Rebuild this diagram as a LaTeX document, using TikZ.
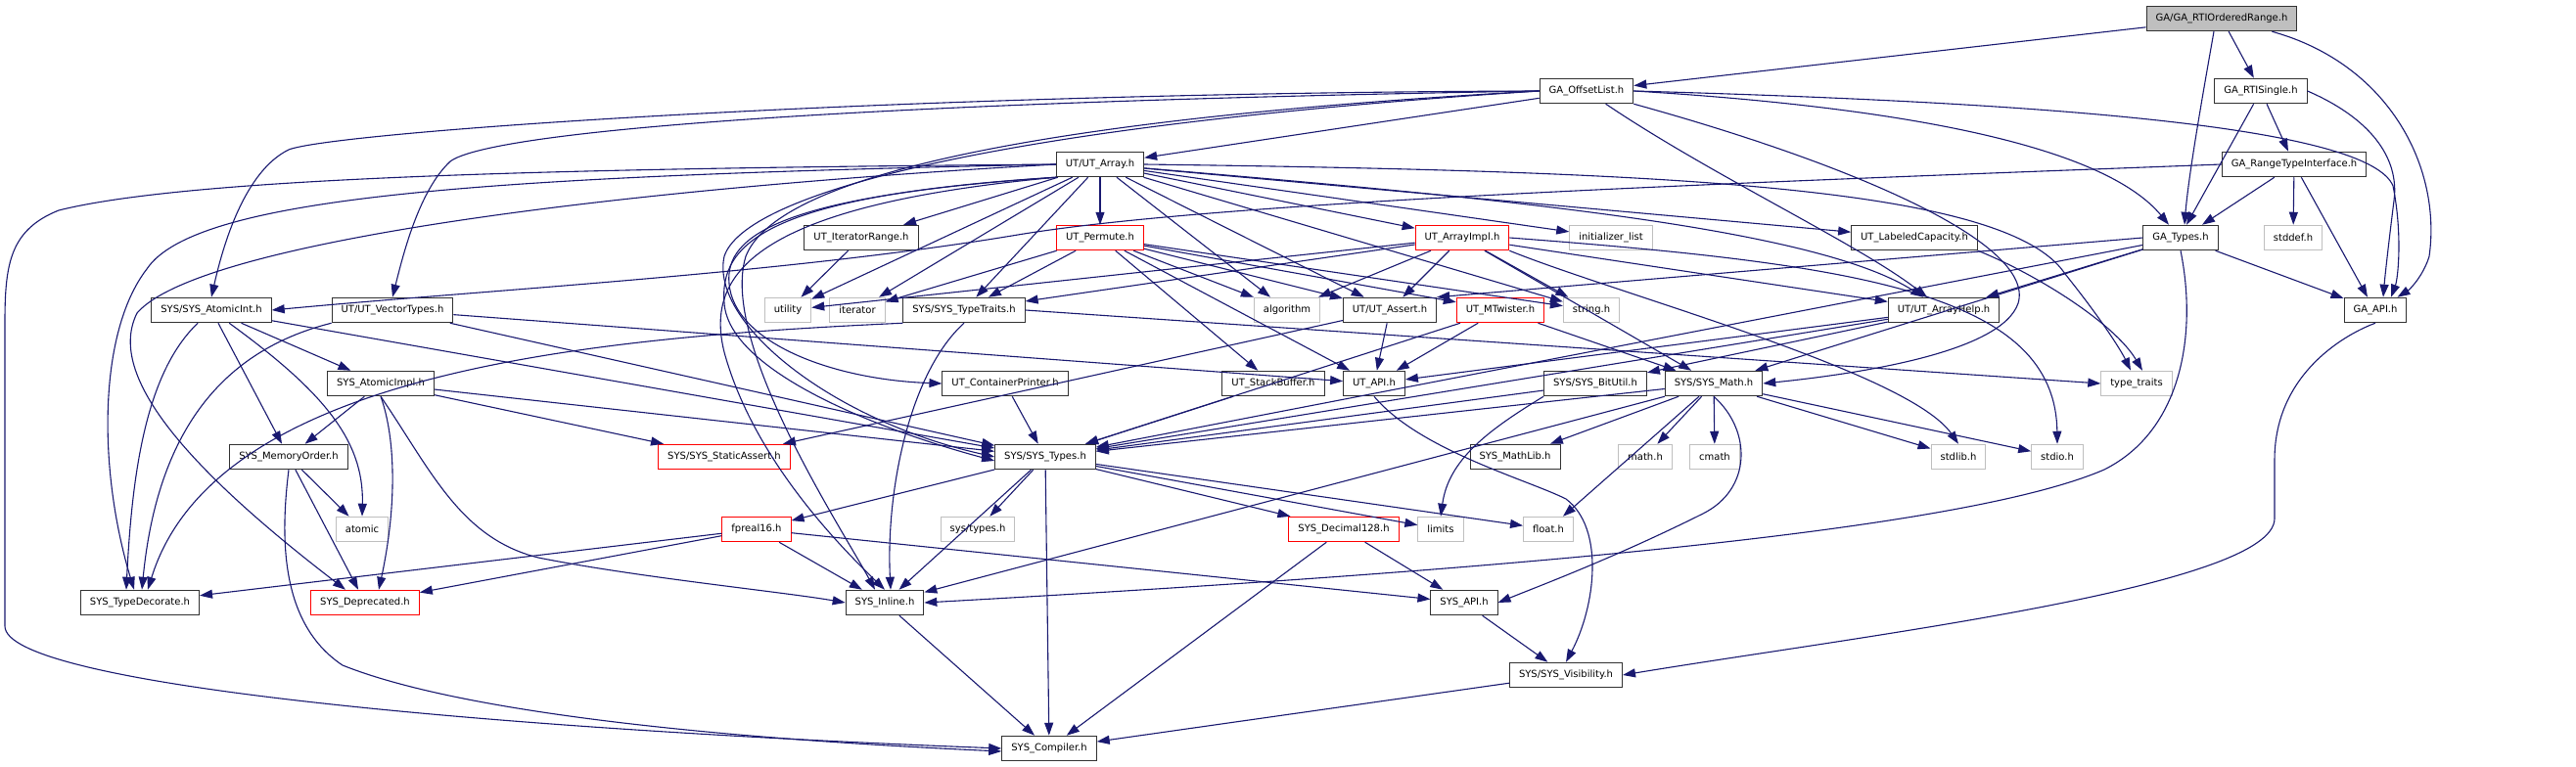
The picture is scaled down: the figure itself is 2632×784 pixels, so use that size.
\documentclass[tikz,border=0pt]{standalone}
\usepackage{fontspec}
\newfontfamily\dv{DejaVu Sans}
\usetikzlibrary{arrows.meta}
\definecolor{edgec}{RGB}{25,25,112}
\definecolor{gbord}{RGB}{191,191,191}
\definecolor{rbord}{RGB}{255,0,0}
\definecolor{nbord}{RGB}{50,50,50}
\begin{document}
\begin{tikzpicture}[x=1pt,y=-1pt,
  nd/.style={draw=nbord, fill=white, line width=1pt, minimum height=25.5pt, inner xsep=9.5pt, inner ysep=0pt, font=\dv\fontsize{10}{12}\selectfont},
  rd/.style={nd, draw=rbord},
  gy/.style={nd, draw=gbord},
  rt/.style={nd, fill=gbord},
  edg/.style={draw=edgec, line width=1.1pt, -{Triangle[length=13pt,width=9pt]}},
]
\useasboundingbox (0,0) rectangle (2632,784);
\fill[white] (0,0) rectangle (2632,784);
% ---- nodes ----
\node[rt] (rtior) at (2270,19) {GA/GA\_RTIOrderedRange.h};
\node[nd] (offs) at (1621,93) {GA\_OffsetList.h};
\node[nd] (rtis) at (2310,93) {GA\_RTISingle.h};
\node[nd] (arr) at (1124,168) {UT/UT\_Array.h};
\node[nd] (rti) at (2344,168) {GA\_RangeTypeInterface.h};
\node[nd] (iter) at (880,243) {UT\_IteratorRange.h};
\node[rd] (perm) at (1124,243) {UT\_Permute.h};
\node[rd] (aimpl) at (1494,243) {UT\_ArrayImpl.h};
\node[gy] (ilist) at (1646,243) {initializer\_list};
\node[nd] (lcap) at (1956,243) {UT\_LabeledCapacity.h};
\node[nd] (gat) at (2228,243) {GA\_Types.h};
\node[gy] (stddef) at (2343,243) {stddef.h};
\node[nd] (aint) at (216,317) {SYS/SYS\_AtomicInt.h};
\node[nd] (vect) at (401,317) {UT/UT\_VectorTypes.h};
\node[gy] (util) at (805,317) {utility};
\node[gy] (iterh) at (876,317) {iterator};
\node[nd] (ttr) at (985,317) {SYS/SYS\_TypeTraits.h};
\node[gy] (algo) at (1315,317) {algorithm};
\node[nd] (asrt) at (1420,317) {UT/UT\_Assert.h};
\node[rd] (mtw) at (1533,317) {UT\_MTwister.h};
\node[gy] (strh) at (1626,317) {string.h};
\node[nd] (ahelp) at (1986,317) {UT/UT\_ArrayHelp.h};
\node[nd] (gaapi) at (2427,317) {GA\_API.h};
\node[nd] (aimp2) at (389,392) {SYS\_AtomicImpl.h};
\node[nd] (cpr) at (1027,392) {UT\_ContainerPrinter.h};
\node[nd] (sbuf) at (1301,392) {UT\_StackBuffer.h};
\node[nd] (utapi) at (1404,392) {UT\_API.h};
\node[nd] (bitu) at (1630,392) {SYS/SYS\_BitUtil.h};
\node[nd] (smath) at (1751,392) {SYS/SYS\_Math.h};
\node[gy] (ttraits) at (2183,392) {type\_traits};
\node[nd] (morder) at (295,467) {SYS\_MemoryOrder.h};
\node[rd] (sassert) at (740,467) {SYS/SYS\_StaticAssert.h};
\node[nd] (stypes) at (1068,467) {SYS/SYS\_Types.h};
\node[nd] (mlib) at (1548,467) {SYS\_MathLib.h};
\node[gy] (mathh) at (1681,467) {math.h};
\node[gy] (cmath) at (1752,467) {cmath};
\node[gy] (stdlib) at (2001,467) {stdlib.h};
\node[gy] (stdio) at (2102,467) {stdio.h};
\node[gy] (atomic) at (370,541) {atomic};
\node[rd] (fp16) at (773,541) {fpreal16.h};
\node[gy] (systy) at (999,541) {sys/types.h};
\node[rd] (dec) at (1373,541) {SYS\_Decimal128.h};
\node[gy] (limits) at (1472,541) {limits};
\node[gy] (floath) at (1582,541) {float.h};
\node[nd] (tdec) at (143,616) {SYS\_TypeDecorate.h};
\node[rd] (depr) at (373,616) {SYS\_Deprecated.h};
\node[nd] (inl) at (904,616) {SYS\_Inline.h};
\node[nd] (sapi) at (1496,616) {SYS\_API.h};
\node[nd] (vis) at (1600,690) {SYS/SYS\_Visibility.h};
\node[nd] (comp) at (1072,765) {SYS\_Compiler.h};

% ---- GA level ----
\draw[edg] (rtior) -- (offs);
\draw[edg] (rtior) -- (rtis);
\draw[edg] ([xshift=-8pt]rtior.south) .. controls (2250,100) and (2236,180) .. ([xshift=4pt]gat.north);
\draw[edg] ([xshift=-26pt]rtior.south east) .. controls (2440,65) and (2495,170) .. (2482,262) .. controls (2476,282) and (2462,296) .. ([xshift=-10pt]gaapi.north east);
\draw[edg] (rtis) -- ([xshift=6pt]gat.north);
\draw[edg] (rtis) -- (rti);
\draw[edg] (rtis.east) .. controls (2420,120) and (2452,160) .. (2446,205) .. controls (2441,245) and (2437,280) .. ([xshift=8pt]gaapi.north);
\draw[edg] (rti) -- ([xshift=22pt]gat.north);
\draw[edg] (rti) -- (stddef);
\draw[edg] (rti) -- ([xshift=-8pt]gaapi.north);
\draw[edg] (rti.west) .. controls (1800,186) and (1250,205) .. (1040,240) .. controls (800,280) and (500,296) .. (aint.east);
\draw[edg] (offs) -- (arr);
\draw[edg] (offs.west) .. controls (900,95) and (340,135) .. (295,153) .. controls (250,175) and (228,250) .. (aint.north);
\draw[edg] (offs.west) .. controls (850,105) and (500,135) .. (460,165) .. controls (428,195) and (412,260) .. (vect.north);
\draw[edg] (offs.west) .. controls (1000,130) and (760,200) .. (740,262) .. controls (725,330) and (850,430) .. (stypes.west);
\draw[edg] (offs.west) .. controls (1000,125) and (790,190) .. (762,262) .. controls (735,350) and (860,540) .. ([xshift=-10pt]inl.north);
\draw[edg] (offs.east) .. controls (1950,110) and (2150,150) .. ([xshift=-12pt]gat.north);
\draw[edg] (offs.east) .. controls (2100,105) and (2420,130) .. (2445,190) .. controls (2455,240) and (2450,285) .. ([xshift=16pt]gaapi.north);
\draw[edg] (offs) .. controls (1750,180) and (1900,250) .. (ahelp);
\draw[edg] (offs.south east) .. controls (1900,170) and (2080,250) .. (2062,310) .. controls (2045,360) and (1900,382) .. (smath.east);
\draw[edg] (gat) -- (gaapi);
\draw[edg] (gat) -- (ahelp);
\draw[edg] (gat) -- (smath);
\draw[edg] (gat.west) -- (asrt.north east);
\draw[edg] (gat) -- (stypes);
\draw[edg] (gat.south) .. controls (2245,340) and (2230,440) .. (2150,480) .. controls (2000,545) and (1500,585) .. (inl.east);
\draw[edg] (gaapi.south) .. controls (2400,340) and (2324,380) .. (2324,470) -- (2324,530) .. controls (2324,600) and (1900,650) .. (vis.east);
% ---- UT_Array ----
\draw[edg] (arr) -- (perm);
\draw[edg] (arr) -- (iter);
\draw[edg] (arr) -- (util);
\draw[edg] (arr) -- (iterh);
\draw[edg] (arr) -- (ttr);
\draw[edg] (arr) -- (algo);
\draw[edg] (arr) -- (asrt);
\draw[edg] (arr) -- (strh);
\draw[edg] (arr) -- (aimpl);
\draw[edg] (arr) -- (ilist);
\draw[edg] (arr) -- (lcap);
\draw[edg] (arr) .. controls (1500,200) and (1850,230) .. (ahelp);
\draw[edg] (arr.east) .. controls (1700,175) and (2050,190) .. (2110,280) .. controls (2150,330) and (2168,360) .. ([xshift=-6pt]ttraits.north);
\draw[edg] (arr.south west) .. controls (800,200) and (740,240) .. (745,290) .. controls (750,350) and (850,388) .. (cpr.west);
\draw[edg] (arr.south west) .. controls (780,200) and (735,250) .. (740,310) .. controls (745,380) and (900,440) .. ([yshift=-4pt]stypes.west);
\draw[edg] (arr.south west) .. controls (770,210) and (720,280) .. (740,360) .. controls (770,470) and (860,560) .. (inl.north);
\draw[edg] (arr.west) .. controls (600,195) and (200,250) .. (140,320) .. controls (110,380) and (180,470) .. ([xshift=-20pt]depr.north);
\draw[edg] (arr.west) .. controls (500,180) and (200,200) .. (150,275) .. controls (100,340) and (100,480) .. ([xshift=-6pt]tdec.north);
\draw[edg] (arr.west) .. controls (600,172) and (200,180) .. (60,215) .. controls (10,235) and (5,270) .. (5,330) -- (5,640) .. controls (5,700) and (500,745) .. (comp.west);
\draw[edg] (iter) -- (util);
% ---- UT_Permute ----
\draw[edg] (perm) -- (iterh);
\draw[edg] (perm) -- (ttr);
\draw[edg] (perm) -- (algo);
\draw[edg] (perm) -- (asrt);
\draw[edg] (perm) -- (mtw);
\draw[edg] (perm) -- (sbuf);
\draw[edg] (perm) -- (utapi);
\draw[edg] (perm) -- (strh);
% ---- UT_ArrayImpl ----
\draw[edg] (aimpl) -- (util);
\draw[edg] (aimpl) -- (ttr);
\draw[edg] (aimpl) -- (algo);
\draw[edg] (aimpl) -- (asrt);
\draw[edg] (aimpl) -- (strh);
\draw[edg] (aimpl) -- (ahelp);
\draw[edg] (aimpl) -- (smath);
\draw[edg] (aimpl.south east) .. controls (1650,300) and (1950,380) .. (stdlib.north);
\draw[edg] (aimpl.east) .. controls (1900,270) and (2100,300) .. (stdio.north);
\draw[edg] (lcap.south east) .. controls (2080,280) and (2160,330) .. ([xshift=6pt]ttraits.north);
% ---- row 4 sources ----
\draw[edg] (ahelp) -- (bitu);
\draw[edg] (ahelp) -- (utapi);
\draw[edg] (ahelp) -- (stypes);
\draw[edg] (asrt) -- (utapi);
\draw[edg] (asrt) -- (sassert);
\draw[edg] (mtw) -- (utapi);
\draw[edg] (mtw) -- (stypes);
\draw[edg] (mtw) -- (smath);
\draw[edg] (ttr.south west) .. controls (600,345) and (220,380) .. ([xshift=8pt]tdec.north);
\draw[edg] (ttr.east) -- (ttraits.west);
\draw[edg] (ttr.south) .. controls (930,380) and (905,500) .. ([xshift=6pt]inl.north);
\draw[edg] (aint) .. controls (150,380) and (135,480) .. ([xshift=-14pt]tdec.north);
\draw[edg] (aint) -- (morder);
\draw[edg] (aint) .. controls (330,400) and (372,450) .. (atomic.north);
\draw[edg] (aint) -- (aimp2);
\draw[edg] (aint) -- (stypes);
\draw[edg] (vect.south west) .. controls (220,360) and (160,450) .. ([xshift=2pt]tdec.north);
\draw[edg] (vect) -- (stypes);
\draw[edg] (vect) -- (utapi);
% ---- row 5 sources ----
\draw[edg] (aimp2) -- (morder);
\draw[edg] (aimp2) -- (stypes);
\draw[edg] (aimp2) -- (sassert);
\draw[edg] (aimp2.south) .. controls (405,450) and (405,520) .. ([xshift=14pt]depr.north);
\draw[edg] (aimp2.south) .. controls (440,480) and (470,550) .. (550,570) .. controls (650,590) and (800,605) .. (inl.west);
\draw[edg] (cpr) -- (stypes);
\draw[edg] (sbuf) -- (stypes);
\draw[edg] (utapi.south) .. controls (1450,460) and (1560,490) .. (1600,510) .. controls (1640,540) and (1630,620) .. (vis.north);
\draw[edg] (bitu) -- (stypes);
\draw[edg] (bitu.south west) .. controls (1520,440) and (1480,470) .. (limits.north);
\draw[edg] (smath) -- (stypes);
\draw[edg] (smath) -- (inl);
\draw[edg] (smath) -- (mlib);
\draw[edg] (smath) -- (mathh);
\draw[edg] (smath) -- (cmath);
\draw[edg] (smath) -- (stdlib);
\draw[edg] (smath) -- (stdio);
\draw[edg] (smath) -- (floath);
\draw[edg] (smath.south) .. controls (1790,440) and (1790,500) .. (1740,525) .. controls (1650,570) and (1570,600) .. (sapi.east);
% ---- row 6 sources ----
\draw[edg] (morder) -- (atomic);
\draw[edg] (morder) -- (depr);
\draw[edg] (morder.south) .. controls (285,560) and (290,640) .. (350,680) .. controls (500,740) and (850,760) .. ([yshift=-3pt]comp.west);
\draw[edg] (stypes) -- (fp16);
\draw[edg] (stypes) -- (systy);
\draw[edg] (stypes) -- (inl);
\draw[edg] (stypes) -- (comp);
\draw[edg] (stypes) -- (dec);
\draw[edg] (stypes) -- (limits);
\draw[edg] (stypes) -- (floath);
% ---- row 7/8 sources ----
\draw[edg] (fp16) -- (tdec);
\draw[edg] (fp16) -- (depr);
\draw[edg] (fp16) -- (inl);
\draw[edg] (fp16) -- (sapi);
\draw[edg] (dec) -- (sapi);
\draw[edg] (dec) -- (comp);
\draw[edg] (inl) -- (comp);
\draw[edg] (sapi) -- (vis);
\draw[edg] (vis) -- (comp);
\end{tikzpicture}
\end{document}
